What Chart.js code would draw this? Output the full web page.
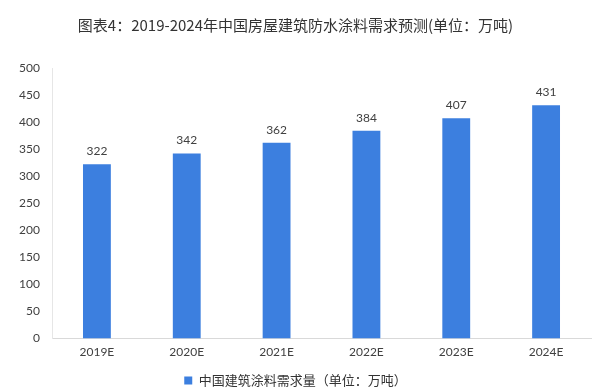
<!DOCTYPE html>
<html>
<head>
<meta charset="utf-8">
<script src="https://cdn.jsdelivr.net/npm/chart.js@4.4.0/dist/chart.umd.min.js"></script>
<style>
    html, body { margin: 0; padding: 0; background: #fff; }
    #wrap { width: 600px; height: 392px; }
</style>
</head>
<body>
<div id="wrap"><canvas id="demandChart"></canvas></div>
<script>
const years = ['2019E', '2020E', '2021E', '2022E', '2023E', '2024E'];
const demand = [322, 342, 362, 384, 407, 431];
const yTicks = [0, 50, 100, 150, 200, 250, 300, 350, 400, 450, 500];

const titleText = '图表4：2019-2024年中国房屋建筑防水涂料需求预测(单位：万吨)';
const seriesName = '中国建筑涂料需求量（单位：万吨）';

// value labels above each bar
const barLabels = {
    id: 'barLabels',
    afterDatasetsDraw(chart) {
        const ctx = chart.ctx;
        const meta = chart.getDatasetMeta(0);
        ctx.save();
        ctx.font = '12px Lato, "Open Sans", sans-serif';
        ctx.fillStyle = '#404040';
        ctx.textAlign = 'center';
        ctx.textBaseline = 'bottom';
        meta.data.forEach((bar, i) => {
            ctx.fillText(demand[i], bar.x, bar.y - 7);
        });
        ctx.restore();
    }
};

new Chart(document.getElementById('demandChart').getContext('2d'), {
    type: 'bar',
    data: {
        labels: years,
        datasets: [{
            label: seriesName,
            data: demand,
            backgroundColor: '#3c7fdf',
            categoryPercentage: 1,
            barPercentage: 0.31
        }]
    },
    options: {
        responsive: true,
        maintainAspectRatio: false,
        animation: false,
        layout: { padding: { left: 0, right: 9, top: 0, bottom: -5 } },
        plugins: {
            title: {
                display: true,
                text: titleText,
                color: '#333',
                font: { family: '"Noto Sans CJK SC", sans-serif', size: 15, weight: 'normal' },
                padding: { top: 16, bottom: 34 }
            },
            legend: {
                position: 'bottom',
                labels: {
                    color: '#333',
                    font: { family: '"Noto Sans CJK SC", sans-serif', size: 13 },
                    boxWidth: 8,
                    boxHeight: 8,
                    padding: 0
                }
            },
            tooltip: { enabled: false }
        },
        scales: {
            x: {
                afterFit(axis) { axis.height += 9; },
                grid: { display: false, drawTicks: false },
                border: { color: '#d9d9d9' },
                ticks: {
                    color: '#404040',
                    font: { family: 'Lato, "Open Sans", sans-serif', size: 12 },
                    padding: 6
                }
            },
            y: {
                min: 0,
                max: 500,
                afterFit(axis) { axis.width = 52; },
                afterBuildTicks(axis) { axis.ticks = yTicks.map(v => ({ value: v })); },
                grid: { display: false, drawTicks: false },
                border: { color: '#e6e6e6' },
                ticks: {
                    color: '#404040',
                    font: { family: 'Lato, "Open Sans", sans-serif', size: 12 },
                    padding: 12
                }
            }
        }
    },
    plugins: [barLabels]
});
</script>
</body>
</html>
